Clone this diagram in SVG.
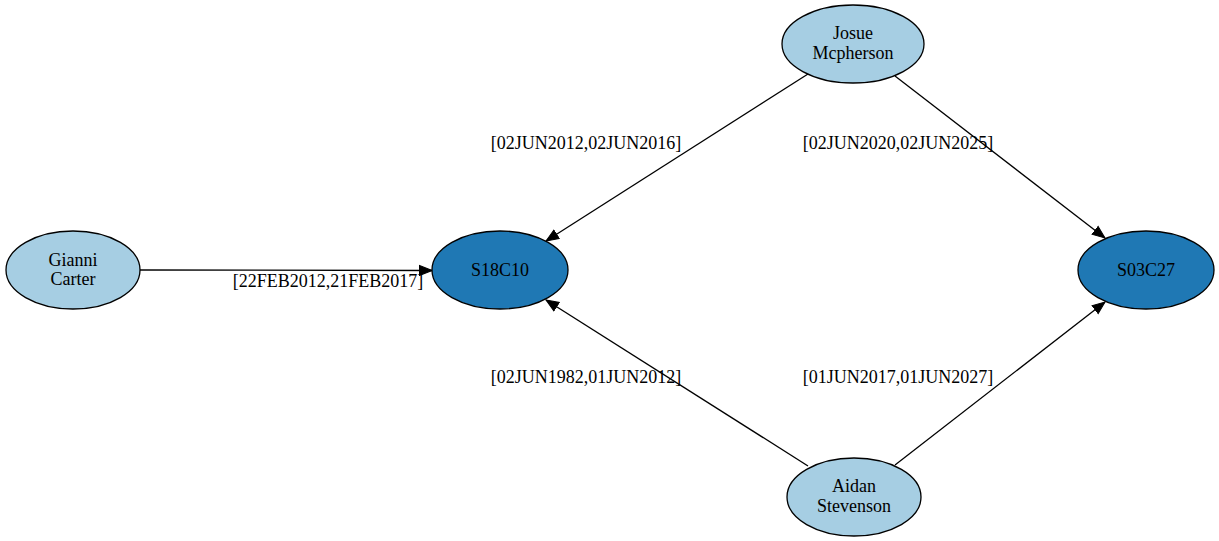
<svg xmlns="http://www.w3.org/2000/svg" width="1219" height="541" viewBox="0 0 1219 541">
<style>
text{font-family:"Liberation Serif","Times New Roman",serif;font-size:18px;fill:#000}
.n text{text-anchor:middle}
.light{fill:#a6cee3;stroke:#000;stroke-width:1.3}
.dark{fill:#1f78b4;stroke:#000;stroke-width:1.3}
.e{stroke:#000;stroke-width:1.3;fill:none;marker-end:url(#ah)}
.lbl{text-anchor:middle}
</style>
<defs>
<marker id="ah" markerUnits="userSpaceOnUse" markerWidth="14" markerHeight="12" refX="13" refY="6" orient="auto" viewBox="0 0 14 12">
<path d="M0.5,1 L13,6 L0.5,11 Z" fill="#000" stroke="#000"/>
</marker>
</defs>
<rect width="1219" height="541" fill="#fff"/>
<g id="connectors">
<line class="e" x1="140" y1="270" x2="432" y2="270.5"/>
<line class="e" x1="808" y1="74" x2="546" y2="241"/>
<line class="e" x1="895" y1="76" x2="1105" y2="238"/>
<line class="e" x1="808" y1="466" x2="546" y2="300"/>
<line class="e" x1="895" y1="465" x2="1105" y2="302"/>
<text class="lbl" x="328" y="287">[22FEB2012,21FEB2017]</text>
<text class="lbl" x="586" y="149">[02JUN2012,02JUN2016]</text>
<text class="lbl" x="898" y="149">[02JUN2020,02JUN2025]</text>
<text class="lbl" x="586" y="383">[02JUN1982,01JUN2012]</text>
<text class="lbl" x="898" y="383">[01JUN2017,01JUN2027]</text>
</g>
<g id="gianni" class="n">
<ellipse class="light" cx="73" cy="270" rx="67" ry="39"/>
<text x="73" y="266">Gianni</text>
<text x="73" y="285">Carter</text>
</g>
<g id="s18c10" class="n">
<ellipse class="dark" cx="500" cy="270" rx="68" ry="39"/>
<text x="500" y="276">S18C10</text>
</g>
<g id="josue" class="n">
<ellipse class="light" cx="853" cy="44" rx="71" ry="39"/>
<text x="853" y="39">Josue</text>
<text x="853" y="59">Mcpherson</text>
</g>
<g id="aidan" class="n">
<ellipse class="light" cx="854" cy="497" rx="67" ry="39"/>
<text x="854" y="492">Aidan</text>
<text x="854" y="512">Stevenson</text>
</g>
<g id="s03c27" class="n">
<ellipse class="dark" cx="1146" cy="270" rx="68" ry="39"/>
<text x="1146" y="276">S03C27</text>
</g>
</svg>
